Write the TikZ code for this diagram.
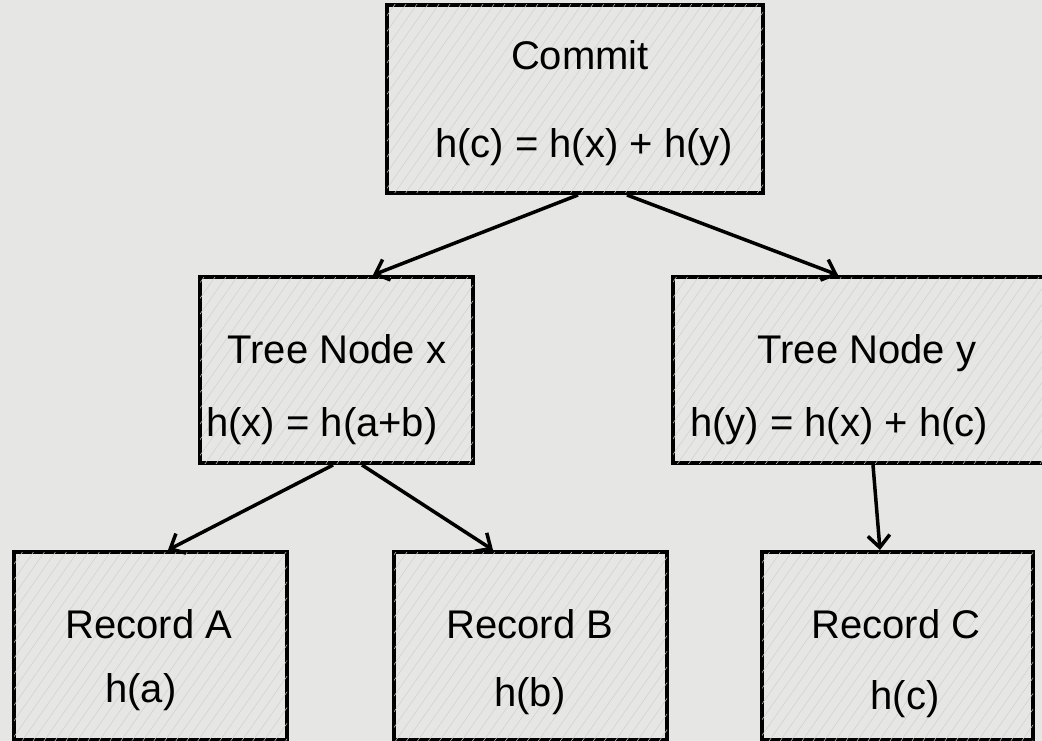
\documentclass[tikz,border=0pt]{standalone}
\usepackage{fontspec}
\setmainfont{Liberation Sans}
\usepackage{tikz}
\usetikzlibrary{arrows.meta,patterns.meta}
\definecolor{paper}{RGB}{230,230,229}
\definecolor{hatch}{RGB}{208,208,206}
\tikzstyle{box}=[draw=black, line width=4pt, fill=paper, inner sep=0pt,
	postaction={pattern={Lines[angle=55,distance=9pt,line width=0.5pt]}, pattern color=hatch}]
\tikzstyle{link}=[-{Straight Barb[length=12pt,width=22pt]}, line width=3.5pt]
\tikzstyle{txt}=[font=\fontsize{40}{44}\selectfont, inner sep=0pt, anchor=base]

\begin{document}
\begin{tikzpicture}[x=1pt,y=-1pt]
\fill[paper] (0,0) rectangle (1042,741);
\clip (0,0) rectangle (1042,741);
% boxes
\node[box, minimum width=376pt, minimum height=188pt] (commit) at (575,99) {};
\node[box, minimum width=273pt, minimum height=186pt] (treex) at (336.5,370) {};
\node[box, minimum width=387pt, minimum height=186pt] (treey) at (866.5,370) {};
\node[box, minimum width=273pt, minimum height=188pt] (recA) at (150.5,646) {};
\node[box, minimum width=273pt, minimum height=188pt] (recB) at (530.5,646) {};
\node[box, minimum width=271pt, minimum height=188pt] (recC) at (897.5,646) {};
% texts
\node[txt] (commitT) at (580,70) {Commit};
\node[txt] (commitH) at (584,158) {h(c) = h(x) + h(y)};
\node[txt] (treexT) at (337,363) {Tree Node x};
\node[txt] (treexH) at (322,436) {h(x) = h(a+b)};
\node[txt] (treeyT) at (867,363) {Tree Node y};
\node[txt] (treeyH) at (839,436) {h(y) = h(x) + h(c)};
\foreach \r/\x/\l/\hx/\hy in {A/149/a/141/702, B/530/b/530/706, C/896/c/905/709} {
	\node[txt] (rec\r T) at (\x,638) {Record \r};
	\node[txt] (rec\r H) at (\hx,\hy) {h(\l)};
}
% arrows
\draw[link] ([xshift=3pt]commit.south) -- ([xshift=36.5pt]treex.north);
\draw[link] ([xshift=52pt]commit.south) -- ([xshift=-28.5pt]treey.north);
\draw[link] ([xshift=-3.5pt]treex.south) -- ([xshift=17.5pt]recA.north);
\draw[link] ([xshift=25.5pt]treex.south) -- ([xshift=-37.5pt]recB.north);
\draw[link] ([xshift=6.5pt]treey.south) -- ([xshift=-17.5pt]recC.north);
\end{tikzpicture}
\end{document}
